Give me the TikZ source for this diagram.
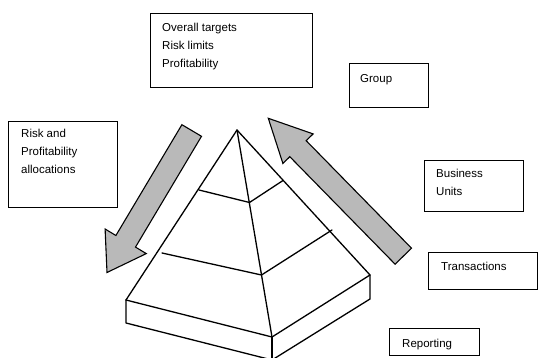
\documentclass[tikz,border=0pt]{standalone}
\usepackage{fontspec}
\setmainfont{Liberation Sans}
\begin{document}
\begin{tikzpicture}[x=1pt,y=-1pt,
  box/.style={draw, line width=1.1pt, rectangle, inner sep=0pt, anchor=north west},
  txt/.style={inner sep=0pt, anchor=base west, align=left,
    font=\fontsize{11.5pt}{18pt}\selectfont},
  edge/.style={line width=1.3pt, line join=round, line cap=round},
  bigarrow/.style={draw, line width=1.1pt, line join=miter, fill=gray!55}]
\useasboundingbox (0,0) rectangle (538,358);
\clip (0,0) rectangle (538,358);

% boxes (text nodes are anchored at the baseline of their last line)
\node[box, minimum width=162pt, minimum height=74pt] (targets) at (150,13) {};
\node[txt] (targetstxt) at ([shift={(12,55)}]targets.north west) {Overall targets\\Risk limits\\Profitability};

\node[box, minimum width=79pt, minimum height=44pt] (group) at (349,63) {};
\node[txt] (grouptxt) at ([shift={(11,20)}]group.north west) {Group};

\node[box, minimum width=109pt, minimum height=86pt] (alloc) at (8,121) {};
\node[txt] (alloctxt) at ([shift={(13,53)}]alloc.north west) {Risk and\\Profitability\\allocations};

\node[box, minimum width=99pt, minimum height=51pt] (units) at (424,160) {};
\node[txt] (unitstxt) at ([shift={(12,36)}]units.north west) {Business\\Units};

\node[box, minimum width=109pt, minimum height=37pt] (trans) at (428,252) {};
\node[txt] (transtxt) at ([shift={(13,18)}]trans.north west) {Transactions};

\node[box, minimum width=90pt, minimum height=27pt] (report) at (389,328) {};
\node[txt] (reporttxt) at ([shift={(13,19)}]report.north west) {Reporting};

% pyramid
\coordinate (A) at (237,130);
\coordinate (L) at (126,300);
\coordinate (F) at (272,337);
\coordinate (R) at (370,275);
\coordinate (Lb) at (126,323);
\coordinate (Fb) at (272,360);
\coordinate (Rb) at (370,299);
\draw[edge] (L) -- (A) -- (R);
\draw[edge] (A) -- (F);
\draw[edge] (L) -- (F) -- (R);
\draw[edge] (L) -- (Lb) -- (Fb) -- (Rb) -- (R);
\draw[edge] (F) -- (Fb);
% layers
\draw[edge] (199,190) -- (249.5,202.5) -- (283,180.5);
\draw[edge] (162,253) -- (261.5,275) -- (332,230);

% big arrows
\draw[bigarrow] (201.5,136.3) -- (135.5,247.1) -- (146.3,253.6) -- (107,272.5)
  -- (105.1,229.0) -- (115.9,235.5) -- (181.9,124.7) -- cycle;
\draw[bigarrow] (411.5,248.2) -- (306.2,140.7) -- (313.1,133.9) -- (268.3,118.3)
  -- (282.9,163.5) -- (289.8,156.7) -- (395.1,264.2) -- cycle;
\end{tikzpicture}
\end{document}
